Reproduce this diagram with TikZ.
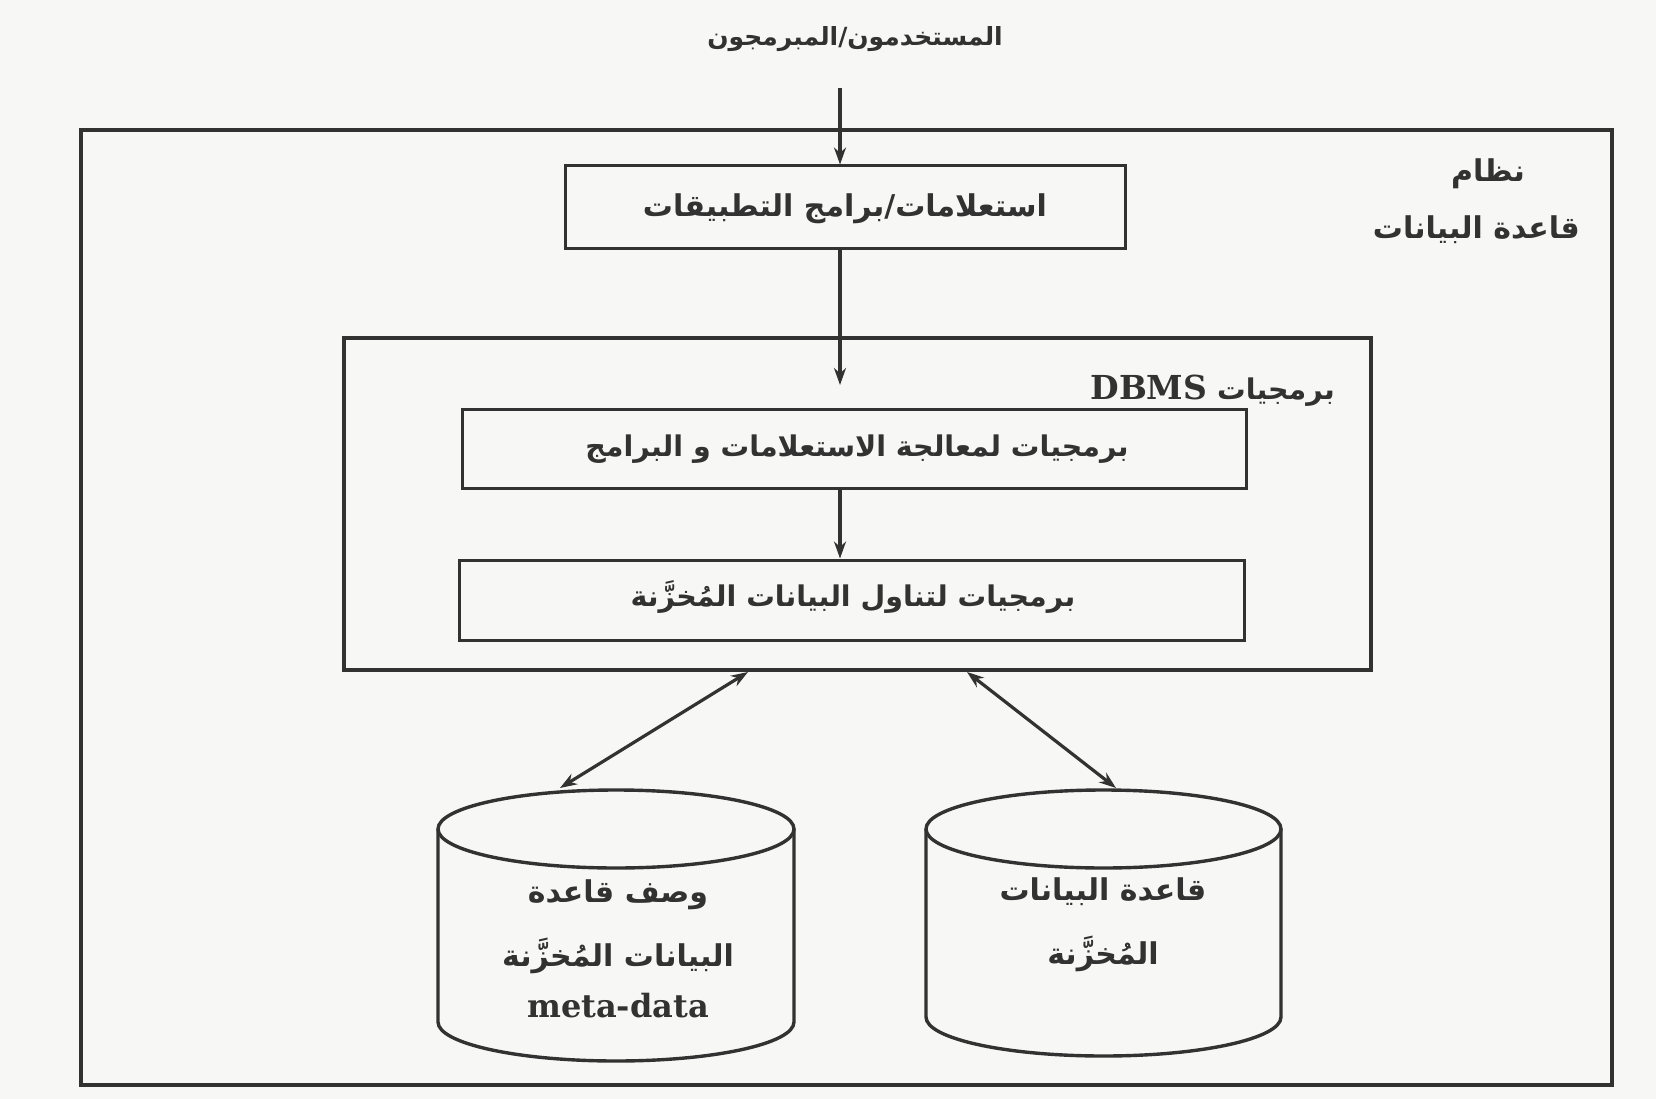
\documentclass[tikz,border=0pt]{standalone}
\usepackage{fontspec}
\usetikzlibrary{arrows.meta}
\TeXXeTstate=1
\newfontfamily\arabicfont[Script=Arabic]{DejaVu Sans}
\newfontfamily\latinb{DejaVu Serif}
\definecolor{ink}{RGB}{50,50,50}
\definecolor{paper}{RGB}{247,247,245}
\newcommand{\ar}[1]{{\arabicfont\bfseries\beginR #1\endR}}
\begin{document}
\begin{tikzpicture}[x=1pt,y=-1pt,
  frame/.style={draw=ink, line width=3.4pt, fill=none, inner sep=0pt},
  boxx/.style={draw=ink, line width=3pt, fill=paper, inner sep=0pt},
  artxt/.style={text=ink, font=\fontsize{28.5}{34}\selectfont, inner sep=0pt, align=center},
  cyltxt/.style={artxt, font=\fontsize{30}{36}\selectfont},
  cyl/.style={draw=ink, line width=3.4pt, fill=paper},
  arr/.style={draw=ink, line width=3.2pt, -{Stealth[length=17pt,width=12pt]}},
  darr/.style={draw=ink, line width=3.2pt, {Stealth[length=17pt,width=12pt]}-{Stealth[length=17pt,width=12pt]}}
]
\fill[paper] (0,0) rectangle (1656,1099);
\useasboundingbox (0,0) rectangle (1656,1099);

% outer system frame
\node[frame, minimum width=1531pt, minimum height=955pt] (sys) at (846.5,607.5) {};
\node[cyltxt, anchor=east] (sysl1) at (1525,174) {\ar{نظام}};
\node[cyltxt, anchor=east] (sysl2) at (1580,230) {\ar{قاعدة البيانات}};

% users
\node[artxt, font=\fontsize{25}{30}\selectfont] (users) at (855,39) {\ar{المستخدمون/المبرمجون}};
\coordinate (usersout) at (840,88);

% queries / application programs
\node[boxx, minimum width=560pt, minimum height=83pt] (apps) at (845,207.5) {};
\node[artxt, font=\fontsize{30}{36}\selectfont] (appst) at (845,209) {\ar{استعلامات/برامج التطبيقات}};

% DBMS software frame
\node[frame, minimum width=1027pt, minimum height=332pt] (dbms) at (857.5,504) {};
\node[artxt, anchor=east] (dbmsl) at (1335,391) {\ar{برمجيات \beginL{\latinb\bfseries\fontsize{33}{38}\selectfont DBMS}\endL}};
\coordinate (dbmsin) at (840,385);

% processing software
\node[boxx, minimum width=784pt, minimum height=79pt] (proc) at (854,448.5) {};
\node[artxt] (proct) at (857,449) {\ar{برمجيات لمعالجة الاستعلامات و البرامج}};

% stored data access software
\node[boxx, minimum width=785pt, minimum height=80pt] (acc) at (851.5,600) {};
\node[artxt] (acct) at (853,597) {\ar{برمجيات لتناول البيانات المُخزَّنة}};

% cylinders
\draw[cyl] (438,829) -- (438,1022) arc[start angle=180, end angle=0, x radius=178, y radius=39] -- (794,829);
\draw[cyl] (616,829) ellipse [x radius=178, y radius=39];
\draw[cyl] (926,829) -- (926,1017) arc[start angle=180, end angle=0, x radius=177.5, y radius=39] -- (1281,829);
\draw[cyl] (1103.5,829) ellipse [x radius=177.5, y radius=39];

\node[cyltxt] (meta1) at (618,895) {\ar{وصف قاعدة}};
\node[cyltxt] (meta2) at (618,956) {\ar{البيانات المُخزَّنة}};
\node[text=ink, font=\latinb\bfseries\fontsize{32}{36}\selectfont, inner sep=0pt] (meta3) at (618,1006) {meta-data};
\node[cyltxt] (db1) at (1103,892) {\ar{قاعدة البيانات}};
\node[cyltxt] (db2) at (1103,954) {\ar{المُخزَّنة}};

\coordinate (metatop) at (560,788);
\coordinate (dbtop) at (1116,788);
\coordinate (dbmsL) at (748,672);
\coordinate (dbmsR) at (967,672);

% connectors
\draw[arr] (usersout) -- (usersout |- apps.north);
\draw[arr] (usersout |- apps.south) -- (dbmsin);
\draw[arr] (usersout |- proc.south) -- (usersout |- acc.north);
\draw[darr] (dbmsL) -- (metatop);
\draw[darr] (dbmsR) -- (dbtop);
\end{tikzpicture}
\end{document}
